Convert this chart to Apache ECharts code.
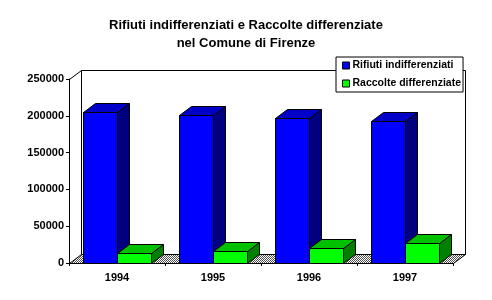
<!DOCTYPE html>
<html>
<head>
<meta charset="utf-8">
<script src="https://cdn.jsdelivr.net/npm/echarts@6/dist/echarts.min.js"></script>
<style>html,body{margin:0;padding:0;background:#fff}#c{width:492px;height:300px}</style>
</head>
<body>
<div id="c"></div>
<script>
const categories = ['1994', '1995', '1996', '1997'];
const rifiuti = [205000, 201000, 196500, 193000];
const raccolte = [13000, 16000, 20000, 27000];
const yTicks = [0, 50000, 100000, 150000, 200000, 250000];
const seriesNames = ['Rifiuti indifferenziati', 'Raccolte differenziate'];

const DX = 12, DY = -9;
const FONT = 'Liberation Sans';

const pc = document.createElement('canvas');
pc.width = 2; pc.height = 2;
const pctx = pc.getContext('2d');
pctx.fillStyle = '#ffffff'; pctx.fillRect(0, 0, 2, 2);
pctx.fillStyle = '#505050'; pctx.fillRect(0, 0, 1, 1); pctx.fillRect(1, 1, 1, 1);

function r(v) { return Math.round(v) + 0.5; }

function barRender(s, e, front, top, side) {
  return function (params, api) {
    const i = api.value(0), v = api.value(1);
    const c = api.coord([i, v]);
    const b = api.coord([i, 0]);
    const band = api.size([1, 0])[0];
    const x0 = r(c[0] - band / 2 + band * s), x1 = r(c[0] - band / 2 + band * e);
    const yT = r(c[1]), yB = r(b[1]);
    const st = { stroke: '#000', lineWidth: 1 };
    return {
      type: 'group',
      children: [
        { type: 'polygon', shape: { points: [[x1, yT], [x1 + DX, yT + DY], [x1 + DX, yB + DY], [x1, yB]] }, style: Object.assign({ fill: side }, st) },
        { type: 'polygon', shape: { points: [[x0, yT], [x1, yT], [x1 + DX, yT + DY], [x0 + DX, yT + DY]] }, style: Object.assign({ fill: top }, st) },
        { type: 'rect', shape: { x: x0, y: yT, width: x1 - x0, height: yB - yT }, style: Object.assign({ fill: front }, st) }
      ]
    };
  };
}

function frameRender(params, api) {
  const band = api.size([1, 0])[0];
  const a = api.coord([0, 0]);
  const z = api.coord([categories.length - 1, yTicks[yTicks.length - 1]]);
  const L = r(a[0] - band / 2), R = r(z[0] + band / 2);
  const B = r(a[1]), T = r(z[1]);
  const st = { stroke: '#000', lineWidth: 1 };
  return {
    type: 'group',
    children: [
      { type: 'polygon', shape: { points: [[L, B], [R, B], [R + DX, B + DY], [L + DX, B + DY]] },
        style: Object.assign({ fill: { image: pc, repeat: 'repeat' } }, st) },
      { type: 'polyline', shape: { points: [[L + DX, B + DY], [L + DX, T + DY], [R + DX, T + DY], [R + DX, B + DY]] },
        style: Object.assign({ fill: null }, st) },
      { type: 'polyline', shape: { points: [[L, T], [L + DX, T + DY]] }, style: Object.assign({ fill: null }, st) }
    ]
  };
}

const chart = echarts.init(document.getElementById('c'), null, { renderer: 'canvas' });
chart.setOption({
  animation: false,
  backgroundColor: '#fff',
  title: {
    text: 'Rifiuti indifferenziati e Raccolte differenziate\nnel Comune di Firenze',
    left: 'center', top: 16, padding: 0,
    textStyle: { fontFamily: FONT, fontWeight: 'bold', fontSize: 13, lineHeight: 18, color: '#000' }
  },
  legend: {
    data: seriesNames,
    orient: 'vertical',
    left: 336, top: 57,
    padding: [2, 2, 2, 6],
    itemWidth: 7, itemHeight: 7, itemGap: 5,
    icon: 'rect',
    itemStyle: { borderColor: '#000', borderWidth: 1 },
    backgroundColor: '#fff', borderColor: '#000', borderWidth: 1, borderRadius: 0,
    textStyle: { fontFamily: FONT, fontWeight: 'bold', fontSize: 10.5, lineHeight: 13, color: '#000', padding: [0, 0, 0, -2] },
    selectedMode: false
  },
  grid: { left: 69, right: 39, top: 79, bottom: 37 },
  xAxis: {
    type: 'category', data: categories, boundaryGap: true,
    axisLine: { lineStyle: { color: '#000', width: 1 } },
    axisTick: { show: true, length: 3, lineStyle: { color: '#000' }, interval: 0 },
    axisLabel: { fontFamily: FONT, fontWeight: 'bold', fontSize: 11, color: '#000', margin: 9 },
    z: 5
  },
  yAxis: {
    type: 'value', min: yTicks[0], max: yTicks[yTicks.length - 1], interval: yTicks[1] - yTicks[0],
    axisLine: { show: true, lineStyle: { color: '#000', width: 1 } },
    axisTick: { show: true, length: 3, lineStyle: { color: '#000' } },
    splitLine: { show: false },
    axisLabel: { fontFamily: FONT, fontWeight: 'bold', fontSize: 11, color: '#000', margin: 5,
      formatter: function (v) { return String(v); } }
  },
  series: [
    { type: 'custom', name: 'frame', z: 1, renderItem: frameRender, data: [[0, 0]], silent: true },
    { type: 'custom', name: seriesNames[0], z: 2, itemStyle: { color: '#0000ff' },
      renderItem: barRender(0.145, 0.5, '#0000ff', '#0000c8', '#000080'),
      data: rifiuti.map((v, i) => [i, v]) },
    { type: 'custom', name: seriesNames[1], z: 3, itemStyle: { color: '#00ff00' },
      renderItem: barRender(0.5, 0.855, '#00ff00', '#00c000', '#008000'),
      data: raccolte.map((v, i) => [i, v]) }
  ]
});
</script>
</body>
</html>
